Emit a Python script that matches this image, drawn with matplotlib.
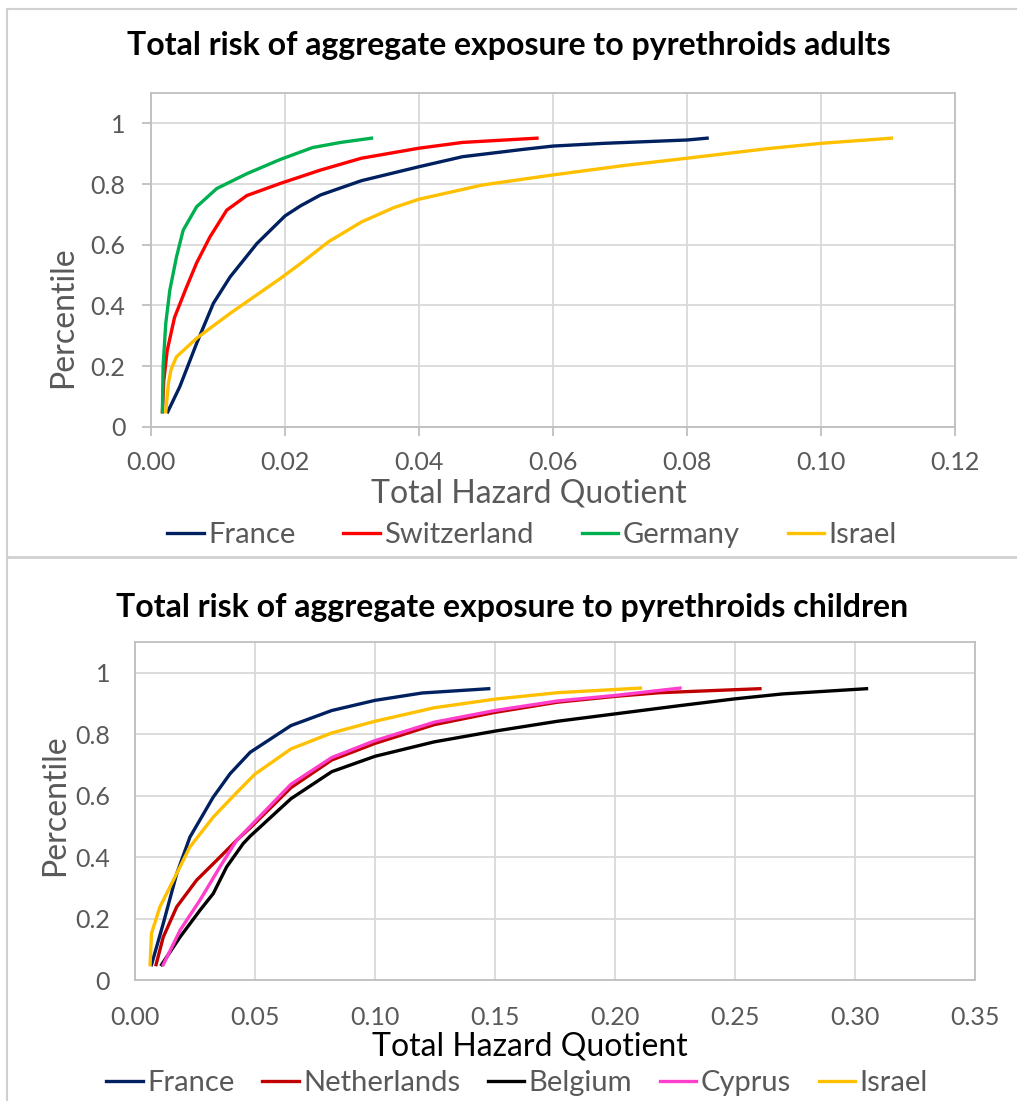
import matplotlib.pyplot as plt
from matplotlib.lines import Line2D

plt.rcParams['font.family'] = ['Lato', 'DejaVu Sans']

# ---- adults data (Total Hazard Quotient vs percentile) ----
fr_a_x = [0.0025, 0.0043, 0.0068, 0.0093, 0.0118, 0.0158, 0.0200, 0.0223, 0.0253, 0.0314, 0.0400, 0.0465, 0.0555, 0.0600, 0.0676, 0.0800, 0.0830]
fr_a_y = [0.05, 0.133, 0.275, 0.407, 0.494, 0.604, 0.695, 0.728, 0.764, 0.811, 0.857, 0.890, 0.914, 0.925, 0.934, 0.945, 0.951]
ch_a_x = [0.0017, 0.0019, 0.0024, 0.0035, 0.0052, 0.0068, 0.0088, 0.0113, 0.0143, 0.0193, 0.0253, 0.0314, 0.0400, 0.0465, 0.0576]
ch_a_y = [0.05, 0.15, 0.25, 0.36, 0.455, 0.54, 0.626, 0.714, 0.762, 0.802, 0.846, 0.885, 0.918, 0.937, 0.951]
de_a_x = [0.0017, 0.0018, 0.0022, 0.0028, 0.0038, 0.0048, 0.0068, 0.0098, 0.0143, 0.0193, 0.0241, 0.0283, 0.0329]
de_a_y = [0.05, 0.20, 0.341, 0.45, 0.56, 0.648, 0.725, 0.785, 0.834, 0.881, 0.920, 0.937, 0.951]
il_a_x = [0.0022, 0.0026, 0.0030, 0.0038, 0.0068, 0.0118, 0.0193, 0.0223, 0.0265, 0.0314, 0.0362, 0.0400, 0.0495, 0.0600, 0.0706, 0.0800, 0.0918, 0.1000, 0.1105]
il_a_y = [0.05, 0.144, 0.19, 0.231, 0.292, 0.374, 0.489, 0.538, 0.610, 0.675, 0.722, 0.750, 0.797, 0.830, 0.861, 0.885, 0.916, 0.934, 0.951]

# ---- children data ----
fr_c_x = [0.0069, 0.0118, 0.0174, 0.0229, 0.0326, 0.0396, 0.0480, 0.0650, 0.0820, 0.1000, 0.1196, 0.1474]
fr_c_y = [0.05, 0.184, 0.346, 0.465, 0.595, 0.671, 0.741, 0.828, 0.877, 0.910, 0.934, 0.948]
nl_c_x = [0.0088, 0.0118, 0.0174, 0.0257, 0.0354, 0.0424, 0.0480, 0.0650, 0.0820, 0.1000, 0.1247, 0.1500, 0.1760, 0.2000, 0.2186, 0.2604]
nl_c_y = [0.05, 0.14, 0.238, 0.325, 0.40, 0.455, 0.495, 0.626, 0.716, 0.770, 0.831, 0.871, 0.904, 0.923, 0.935, 0.948]
be_c_x = [0.0111, 0.0188, 0.0271, 0.0326, 0.0382, 0.0451, 0.0480, 0.0650, 0.0820, 0.1000, 0.1247, 0.1500, 0.1760, 0.2000, 0.2271, 0.2500, 0.2698, 0.3048]
be_c_y = [0.05, 0.14, 0.227, 0.281, 0.368, 0.444, 0.468, 0.590, 0.678, 0.728, 0.775, 0.810, 0.842, 0.866, 0.893, 0.915, 0.931, 0.948]
cy_c_x = [0.0118, 0.0188, 0.0271, 0.0354, 0.0424, 0.0480, 0.0650, 0.0820, 0.1000, 0.1247, 0.1500, 0.1760, 0.2000, 0.2271]
cy_c_y = [0.05, 0.162, 0.260, 0.368, 0.455, 0.500, 0.637, 0.724, 0.779, 0.839, 0.877, 0.908, 0.926, 0.950]
il_c_x = [0.0063, 0.0069, 0.0104, 0.0160, 0.0229, 0.0326, 0.0424, 0.0500, 0.0650, 0.0820, 0.1000, 0.1247, 0.1500, 0.1760, 0.2106]
il_c_y = [0.05, 0.152, 0.238, 0.325, 0.433, 0.530, 0.610, 0.670, 0.752, 0.804, 0.842, 0.886, 0.914, 0.935, 0.950]

y_ticks = [0, 0.2, 0.4, 0.6, 0.8, 1.0]
y_labels = ['0', '0.2', '0.4', '0.6', '0.8', '1']

grid_col = '#d9d9d9'
frame_col = '#bfbfbf'
txt_col = '#595959'
W, H = 1017, 1101

fig = plt.figure(figsize=(10.17, 11.01), dpi=100)


def style_axes(ax, xmax, xstep):
    ax.set_ylim(0, 1.1)
    ax.set_xlim(0, xmax)
    xt = [i * xstep for i in range(int(round(xmax / xstep)) + 1)]
    ax.set_xticks(xt)
    ax.set_xticklabels(['%.2f' % v for v in xt])
    ax.set_yticks(y_ticks)
    ax.set_yticklabels(y_labels)
    ax.grid(True, color=grid_col, linewidth=1.3)
    ax.set_axisbelow(True)
    for s in ax.spines.values():
        s.set_color(frame_col)
        s.set_linewidth(1.3)
    ax.tick_params(labelsize=18, colors=txt_col)


# ---- adults ----
ax1 = fig.add_axes([0.1485, 0.6122, 0.7906, 0.3034])
ax1.plot(fr_a_x, fr_a_y, color='#002060', lw=2.4, label='France')
ax1.plot(ch_a_x, ch_a_y, color='#ff0000', lw=2.4, label='Switzerland')
ax1.plot(de_a_x, de_a_y, color='#00b050', lw=2.4, label='Germany')
ax1.plot(il_a_x, il_a_y, color='#ffc000', lw=2.4, label='Israel')
style_axes(ax1, 0.12, 0.02)
ax1.tick_params(length=6.5, width=1.3, color=frame_col)
ax1.tick_params(axis='x', pad=11)
ax1.tick_params(axis='y', pad=12)
ax1.set_xlabel('Total Hazard Quotient', fontsize=23, color=txt_col)
ax1.xaxis.set_label_coords(0.47, -0.198)
ax1.xaxis.label.set_va('center')
ax1.set_ylabel('Percentile', fontsize=23, color=txt_col)
ax1.yaxis.set_label_coords(-0.109, 0.33)
ax1.yaxis.label.set_va('center')
fig.text(509 / W, 1 - 45 / H, 'Total risk of aggregate exposure to pyrethroids adults',
         fontsize=23, fontweight='bold', ha='center', va='center')
h1, l1 = ax1.get_legend_handles_labels()
fig.legend(h1, l1, loc='center', bbox_to_anchor=(532 / W, 1 - 535 / H), ncol=4, frameon=False,
           fontsize=21, handlelength=1.25, handletextpad=0.15, columnspacing=1.65,
           labelcolor=txt_col, borderpad=0, borderaxespad=0)

# ---- children ----
ax2 = fig.add_axes([0.1327, 0.1099, 0.826, 0.307])
ax2.plot(fr_c_x, fr_c_y, color='#002060', lw=2.4, label='France')
ax2.plot(nl_c_x, nl_c_y, color='#c00000', lw=2.4, label='Netherlands')
ax2.plot(be_c_x, be_c_y, color='#000000', lw=2.4, label='Belgium')
ax2.plot(cy_c_x, cy_c_y, color='#ff3fcc', lw=2.4, label='Cyprus')
ax2.plot(il_c_x, il_c_y, color='#ffc000', lw=2.4, label='Israel')
style_axes(ax2, 0.35, 0.05)
ax2.tick_params(length=0)
ax2.tick_params(axis='x', pad=19)
ax2.tick_params(axis='y', pad=18)
ax2.set_xlabel('Total Hazard Quotient', fontsize=23, color='#000000')
ax2.xaxis.set_label_coords(0.47, -0.197)
ax2.xaxis.label.set_va('center')
ax2.set_ylabel('Percentile', fontsize=23, color=txt_col)
ax2.yaxis.set_label_coords(-0.095, 0.518)
ax2.yaxis.label.set_va('center')
fig.text(512 / W, 1 - 607 / H, 'Total risk of aggregate exposure to pyrethroids children',
         fontsize=23, fontweight='bold', ha='center', va='center')
h2, l2 = ax2.get_legend_handles_labels()
fig.legend(h2, l2, loc='center', bbox_to_anchor=(517 / W, 1 - 1083 / H), ncol=5, frameon=False,
           fontsize=21, handlelength=1.25, handletextpad=0.15, columnspacing=0.95,
           labelcolor=txt_col, borderpad=0, borderaxespad=0)

# light panel borders
fig.add_artist(Line2D([7 / W, 1], [1 - 9 / H, 1 - 9 / H], color='#d0d0d0', lw=1.5))
fig.add_artist(Line2D([7 / W, 7 / W], [0, 1 - 9 / H], color='#d0d0d0', lw=1.5))
fig.add_artist(Line2D([7 / W, 1], [1 - 557 / H, 1 - 557 / H], color='#d0d0d0', lw=2))

plt.savefig('out.png', dpi=100)
